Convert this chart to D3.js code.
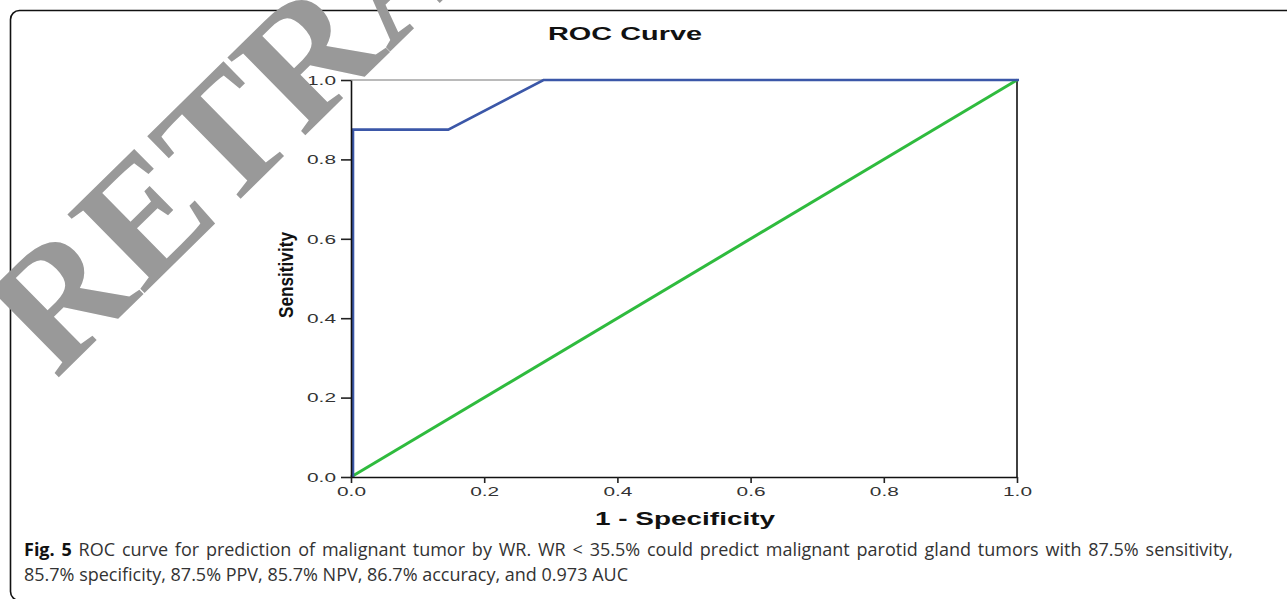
<!DOCTYPE html>
<html>
<head>
<meta charset="utf-8">
<script src="https://cdn.jsdelivr.net/npm/d3@7"></script>
<style>
  body { margin: 0; background: #fff; }
  svg { display: block; }
</style>
</head>
<body>
<div id="vis"></div>
<script>
// ROC points
const fpr = [0, 0, 0.143, 0.286, 1];
const tpr = [0, 0.875, 0.875, 1, 1];
const ref_x = [0, 1];
const ref_y = [0, 1];
const x_ticks = [0, 0.2, 0.4, 0.6, 0.8, 1.0];
const y_ticks = [0, 0.2, 0.4, 0.6, 0.8, 1.0];
const caption_lines = [
    ["Fig. 5", " ROC curve for prediction of malignant tumor by WR. WR < 35.5% could predict malignant parotid gland tumors with 87.5% sensitivity,"],
    ["", "85.7% specificity, 87.5% PPV, 85.7% NPV, 86.7% accuracy, and 0.973 AUC"]
];

const frame_width = 1287;
const frame_height = 599;
const plot = {left: 351, right: 1017, top: 80, bottom: 477};

const svg = d3.select("#vis")
    .append("svg")
        .attr("width", frame_width)
        .attr("height", frame_height);

// outer figure box
svg.append("rect")
    .attr("x", 10.5).attr("y", 10.5)
    .attr("width", 1300).attr("height", 590)
    .attr("rx", 9)
    .attr("fill", "none")
    .attr("stroke", "#111")
    .attr("stroke-width", 1.6);

const x_scale = d3.scaleLinear().domain([0, 1]).range([plot.left, plot.right]);
const y_scale = d3.scaleLinear().domain([0, 1]).range([plot.bottom, plot.top]);

// plot frame: top gray, right black
svg.append("line")
    .attr("x1", x_scale(0)).attr("x2", x_scale(1))
    .attr("y1", y_scale(1)).attr("y2", y_scale(1))
    .attr("stroke", "#777").attr("stroke-width", 1.2);
svg.append("line")
    .attr("x1", x_scale(1)).attr("x2", x_scale(1))
    .attr("y1", y_scale(1)).attr("y2", y_scale(0))
    .attr("stroke", "#111").attr("stroke-width", 1.6);

const line = d3.line()
    .x((d) => x_scale(d[0]))
    .y((d) => y_scale(d[1]));

// reference diagonal
svg.append("path")
    .datum(d3.zip(ref_x, ref_y))
    .attr("d", line)
    .attr("fill", "none")
    .attr("stroke", "#2fbb3e")
    .attr("stroke-width", 3);

// ROC curve
svg.append("path")
    .datum(d3.zip(fpr, tpr))
    .attr("d", line)
    .attr("fill", "none")
    .attr("stroke", "#3b57a8")
    .attr("stroke-width", 2.6)
    .attr("transform", "translate(2,0)");

// axes
const x_axis = svg.append("g")
    .attr("transform", "translate(0," + plot.bottom + ")")
    .call(d3.axisBottom(x_scale).tickValues(x_ticks).tickFormat(d3.format(".1f")).tickSize(6).tickSizeOuter(0));
const y_axis = svg.append("g")
    .attr("transform", "translate(" + plot.left + ",0)")
    .call(d3.axisLeft(y_scale).tickValues(y_ticks).tickFormat(d3.format(".1f")).tickSize(10).tickSizeOuter(0));

[x_axis, y_axis].forEach((g) => {
    g.select(".domain").attr("stroke", "#111").attr("stroke-width", 1.6);
    g.selectAll(".tick line").attr("stroke", "#222").attr("stroke-width", 1.6);
    g.selectAll(".tick text")
        .attr("font-family", "Liberation Sans, Arial, sans-serif")
        .attr("font-size", "13.5px")
        .attr("textLength", 29)
        .attr("lengthAdjust", "spacingAndGlyphs")
        .attr("fill", "#333");
});
x_axis.selectAll(".tick text").attr("dy", "0.75em");
y_axis.selectAll(".tick text").attr("dx", "-2px");

// titles (the SPSS font is wide, so stretch to the measured length)
svg.append("text")
    .attr("x", 625).attr("y", 40)
    .attr("text-anchor", "middle")
    .attr("font-family", "Liberation Sans, Arial, sans-serif")
    .attr("font-weight", "bold")
    .attr("font-size", "18px")
    .attr("textLength", 154)
    .attr("lengthAdjust", "spacingAndGlyphs")
    .attr("fill", "#111")
    .text("ROC Curve");

svg.append("text")
    .attr("x", 685).attr("y", 525)
    .attr("text-anchor", "middle")
    .attr("font-family", "Liberation Sans, Arial, sans-serif")
    .attr("font-weight", "bold")
    .attr("font-size", "18px")
    .attr("textLength", 180)
    .attr("lengthAdjust", "spacingAndGlyphs")
    .attr("fill", "#111")
    .text("1 - Specificity");

svg.append("text")
    .attr("transform", "translate(293,275) rotate(-90)")
    .attr("text-anchor", "middle")
    .attr("font-family", "Liberation Sans, Arial, sans-serif")
    .attr("font-weight", "bold")
    .attr("font-size", "20px")
    .attr("textLength", 86)
    .attr("lengthAdjust", "spacingAndGlyphs")
    .attr("fill", "#111")
    .text("Sensitivity");

// caption (first line justified to the box width)
const cap = svg.append("g")
    .attr("font-family", "Open Sans, Noto Sans, sans-serif")
    .attr("font-size", "18px");
caption_lines.forEach((parts, i) => {
    const t = cap.append("text")
        .attr("x", 24)
        .attr("y", 556 + i * 25);
    if (parts[0]) {
        t.append("tspan").attr("font-weight", "bold").attr("fill", "#111").text(parts[0]);
    }
    t.append("tspan").attr("fill", "#333").text(parts[1]);
    if (i === 0) {
        const natural = t.node().getComputedTextLength();
        const spaces = (parts[0] + parts[1]).split(" ").length - 1;
        const extra = Math.max(0, (1209 - natural) / spaces);
        t.attr("word-spacing", extra + "px");
    }
});

// retraction watermark
svg.append("text")
    .attr("transform", "translate(56,380) rotate(-44.5)")
    .attr("font-family", "Liberation Serif, Times New Roman, serif")
    .attr("font-weight", "bold")
    .attr("font-size", "168px")
    .attr("fill", "#999")
    .text("RETRACTED");
</script>
</body>
</html>
